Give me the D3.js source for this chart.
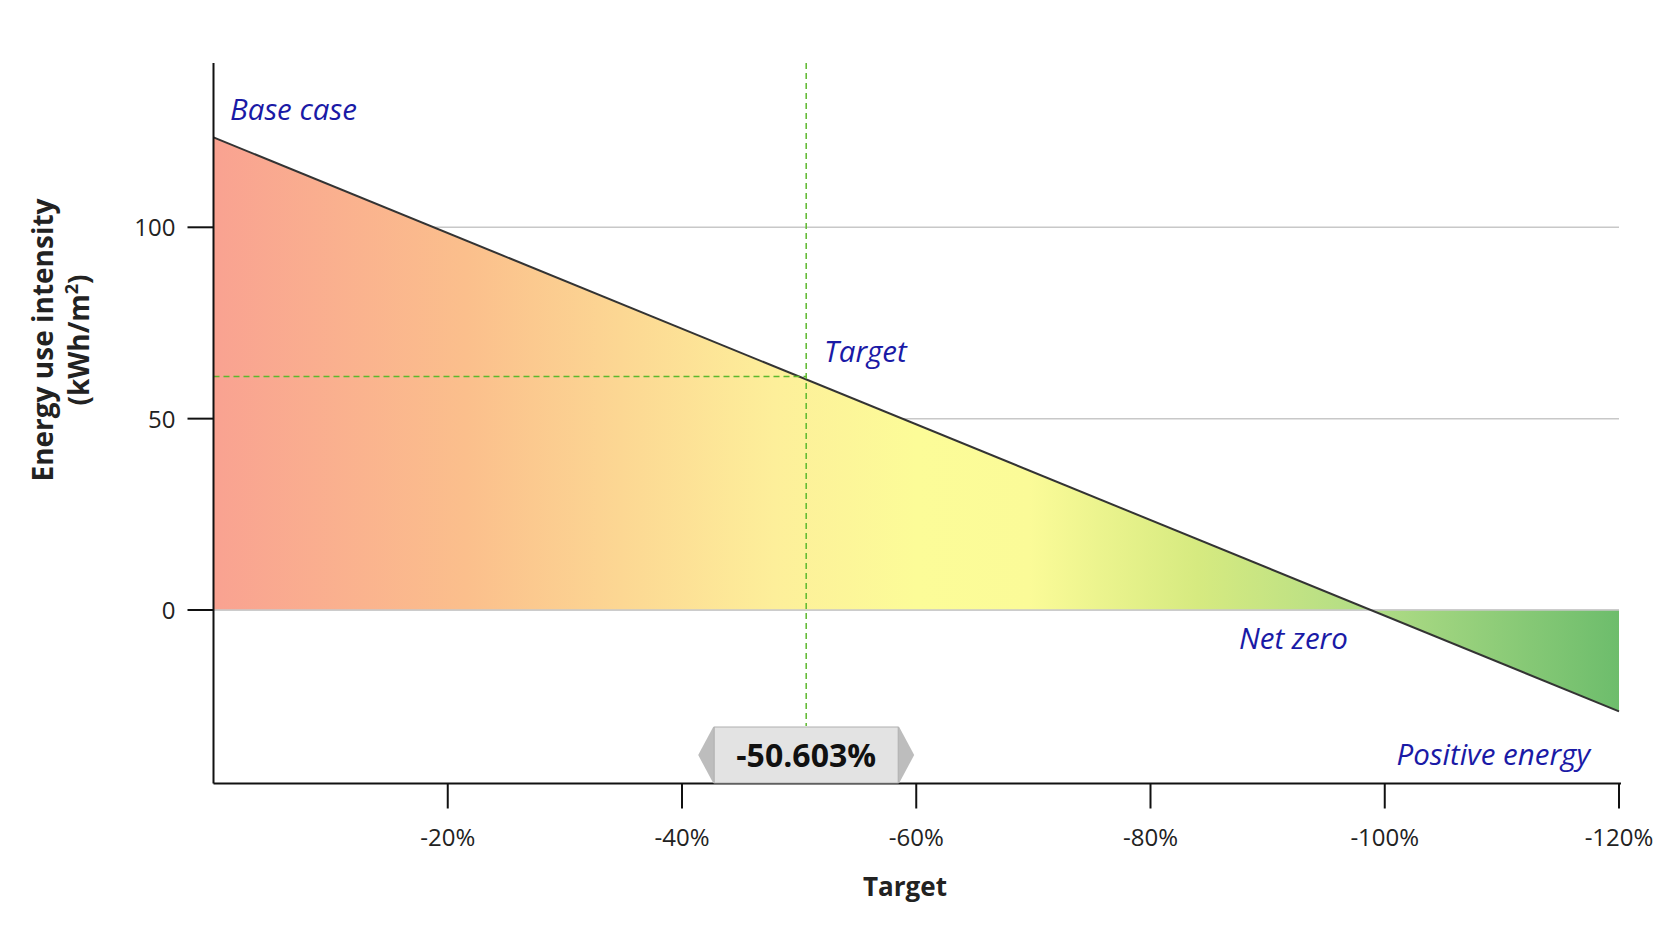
<!DOCTYPE html>
<html><head><meta charset="utf-8">
<script src="https://cdn.jsdelivr.net/npm/d3@7"></script>
<style>body{margin:0;background:#fff}text{font-family:"Open Sans","Noto Sans",sans-serif}</style>
</head><body><svg id="c" width="1658" height="949"></svg>
<script>
const xTicks = [-20, -40, -60, -80, -100, -120];
const yTicks = [0, 50, 100];
const lineX = [0, -120];
const lineY = [123.5, -26.5];
const targetX = -50.603;
const targetY = 61.0;
const netZeroX = -98.8;
const gradStops = [[0,"#f9a291"],[0.18,"#fbbf8c"],[0.4,"#fdef9a"],[0.5,"#fcfc98"],[0.58,"#fbfb98"],[0.7,"#d6ea80"],[0.82,"#b2dd86"],[1,"#6dbd6c"]];

const svg = d3.select("#c");
const x = d3.scaleLinear().domain([0,-120]).range([213.5,1619]);
const y = d3.scaleLinear().domain([0,100]).range([610,227.3]);
const yTop = 63, yBot = 783.5;

const defs = svg.append("defs");
const g = defs.append("linearGradient").attr("id","gr").attr("gradientUnits","userSpaceOnUse")
  .attr("x1",x(0)).attr("x2",x(-120)).attr("y1",0).attr("y2",0);
gradStops.forEach(s=>g.append("stop").attr("offset",s[0]).attr("stop-color",s[1]));

svg.selectAll(".grid").data(yTicks).join("line").attr("x1",x(0)).attr("x2",x(-120))
  .attr("y1",d=>y(d)).attr("y2",d=>y(d)).attr("stroke","#c8c8c8").attr("stroke-width",1.5);

const poly = [[0,0],[0,lineY[0]],[netZeroX,0],[-120,lineY[1]],[-120,0]];
svg.append("path").attr("d",d3.line().x(d=>x(d[0])).y(d=>y(d[1]))(poly)+"Z").attr("fill","url(#gr)");
svg.append("line").attr("x1",x(0)).attr("x2",x(-120)).attr("y1",y(0)).attr("y2",y(0)).attr("stroke","#c8c8c8").attr("stroke-width",1.5);
svg.append("line").attr("x1",x(lineX[0])).attr("y1",y(lineY[0])).attr("x2",x(lineX[1])).attr("y2",y(lineY[1]))
  .attr("stroke","#333").attr("stroke-width",2);

svg.append("line").attr("x1",x(0)).attr("x2",x(targetX)).attr("y1",y(targetY)).attr("y2",y(targetY))
  .attr("stroke","#5cb82e").attr("stroke-width",1.5).attr("stroke-dasharray","6,4");
svg.append("line").attr("x1",x(targetX)).attr("x2",x(targetX)).attr("y1",yTop).attr("y2",726)
  .attr("stroke","#5cb82e").attr("stroke-width",1.5).attr("stroke-dasharray","6,4");

svg.append("line").attr("x1",x(0)).attr("x2",x(0)).attr("y1",yTop).attr("y2",yBot).attr("stroke","#111").attr("stroke-width",2);
svg.append("line").attr("x1",x(0)).attr("x2",x(-120)+2).attr("y1",yBot).attr("y2",yBot).attr("stroke","#111").attr("stroke-width",2);
svg.selectAll(".yt").data(yTicks).join("line").attr("x1",x(0)-26).attr("x2",x(0)).attr("y1",d=>y(d)).attr("y2",d=>y(d)).attr("stroke","#111").attr("stroke-width",2);
svg.selectAll(".yl").data(yTicks).join("text").attr("x",x(0)-38).attr("y",d=>y(d)+9).attr("text-anchor","end")
  .attr("font-size",24).attr("fill","#222").text(d=>d);
svg.selectAll(".xt").data(xTicks).join("line").attr("x1",d=>x(d)).attr("x2",d=>x(d)).attr("y1",yBot).attr("y2",yBot+25).attr("stroke","#111").attr("stroke-width",2);
svg.selectAll(".xl").data(xTicks).join("text").attr("x",d=>x(d)).attr("y",846).attr("text-anchor","middle")
  .attr("font-size",24).attr("fill","#222").text(d=>d+"%");

svg.append("text").attr("x",905).attr("y",896).attr("text-anchor","middle").attr("font-size",26).attr("font-weight","bold").attr("fill","#222").text("Target");
const yt = svg.append("text").attr("transform","translate(53,340) rotate(-90)").attr("text-anchor","middle").attr("font-size",28).attr("font-weight","bold").attr("fill","#222");
yt.append("tspan").attr("x",0).attr("dy",0).text("Energy use intensity");
yt.append("tspan").attr("x",0).attr("dy",36).text("(kWh/m");
yt.append("tspan").attr("dy",-11).attr("font-size",18).text("2");
yt.append("tspan").attr("dy",11).text(")");

const ann = [["Base case",230,120,"start"],["Target",824,362,"start"],["Net zero",1239,649,"start"],["Positive energy",1590,765,"end"]];
svg.selectAll(".an").data(ann).join("text").attr("x",d=>d[1]).attr("y",d=>d[2]).attr("text-anchor",d=>d[3])
  .attr("font-size",29.5).attr("font-style","italic").attr("fill","#1a1aa6").text(d=>d[0]);

const bx = x(targetX);
svg.append("path").attr("d",`M${bx-108},755 L${bx-93},727 L${bx+93},727 L${bx+108},755 L${bx+93},783 L${bx-93},783 Z`).attr("fill","#bdbdbd");
svg.append("rect").attr("x",bx-92).attr("y",727).attr("width",184).attr("height",56).attr("fill","#e3e3e3").attr("stroke","#b0b0b0");
svg.append("text").attr("x",bx).attr("y",767).attr("text-anchor","middle").attr("font-size",32).attr("font-weight","bold").attr("fill","#111").text(targetX.toFixed(3)+"%");
</script></body></html>
